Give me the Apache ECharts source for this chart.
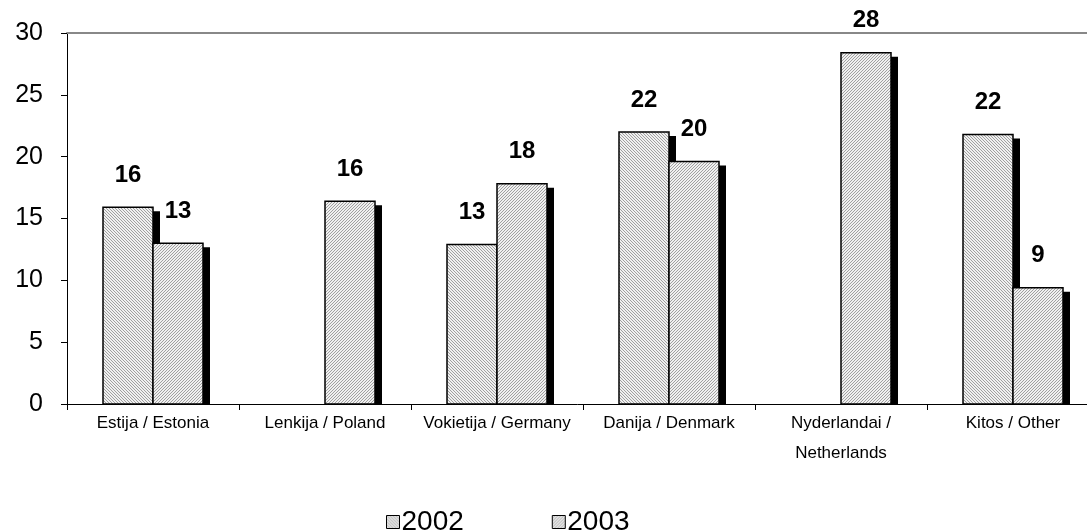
<!DOCTYPE html>
<html>
<head>
<meta charset="utf-8">
<script src="https://cdn.jsdelivr.net/npm/echarts@6/dist/echarts.min.js"></script>
<style>
    html, body { margin: 0; padding: 0; background: #fff; }
    #chart { width: 1087px; height: 532px; }
</style>
</head>
<body>
<div id="chart"></div>
<script>
var categories = ['Estija / Estonia', 'Lenkija / Poland', 'Vokietija / Germany', 'Danija / Denmark', 'Nyderlandai /\nNetherlands', 'Kitos / Other'];
var years = ['2002', '2003'];
var values2002 = [15.9, null, 12.9, 22.0, null, 21.8];
var values2003 = [13.0, 16.4, 17.8, 19.6, 28.4, 9.4];
var yTicks = [0, 5, 10, 15, 20, 25, 30];

var FONT = 'Liberation Sans';

// hatch pattern like the old excel fill
var makeHatch = function (dir) {
    var c = document.createElement('canvas');
    c.width = 3;
    c.height = 3;
    var ctx = c.getContext('2d');
    ctx.fillStyle = '#f0f0f0';
    ctx.fillRect(0, 0, 3, 3);
    ctx.fillStyle = '#a0a0a0';
    for (var i = 0; i < 3; i++) {
        ctx.fillRect(dir > 0 ? i : 2 - i, i, 1, 1);
    }
    return c;
};
var hatch2002 = {image: makeHatch(1), repeat: 'repeat'};
var hatch2003 = {image: makeHatch(-1), repeat: 'repeat'};

var toData = function (arr) {
    var out = [];
    for (var i = 0; i < arr.length; i++) {
        if (arr[i] != null) out.push([i, arr[i]]);
    }
    return out;
};

// side: -1 left of category centre, 0 right of it
var makeRender = function (side, fill) {
    return function (params, api) {
        var idx = api.value(0);
        var val = api.value(1);
        var base = api.coord([idx, 0]);
        var top = api.coord([idx, val]);
        var band = api.size([1, 0])[0];
        var w = band * 50 / 172;
        var x = base[0] + side * w;
        var depth = 7;
        return {
            type: 'group',
            children: [
                {
                    type: 'rect',
                    shape: {x: x + w, y: top[1] + 4, width: depth, height: base[1] - top[1] - 4},
                    style: {fill: '#000'}
                },
                {
                    type: 'rect',
                    shape: {x: x, y: top[1], width: w, height: base[1] - top[1]},
                    style: {fill: fill, stroke: '#000', lineWidth: 1.5}
                },
                {
                    type: 'text',
                    x: x + w / 2,
                    y: top[1] - 20,
                    style: {
                        text: String(Math.round(val)),
                        font: 'bold 24px ' + FONT,
                        fill: '#000',
                        align: 'center',
                        verticalAlign: 'bottom'
                    }
                }
            ]
        };
    };
};

var myChart = echarts.init(document.getElementById('chart'));
var option = {
    animation: false,
    backgroundColor: '#fff',
    grid: {left: 67, top: 33, right: -12, bottom: 128, outerBoundsMode: 'none', containLabel: false},
    legend: {
        data: years,
        top: 503,
        left: 381,
        icon: 'rect',
        itemWidth: 13,
        itemHeight: 13,
        itemGap: 88,
        itemStyle: {borderColor: '#000', borderWidth: 1},
        textStyle: {fontSize: 28, fontFamily: FONT, color: '#000', padding: [0, 0, 0, -3]}
    },
    xAxis: [{
        type: 'category',
        data: categories,
        boundaryGap: true,
        axisLine: {lineStyle: {color: '#000', width: 1}},
        axisTick: {show: true, length: 6, lineStyle: {color: '#000'}},
        axisLabel: {fontSize: 17, fontFamily: FONT, color: '#000', margin: 4, lineHeight: 30, interval: 0}
    }, {
        type: 'category',
        data: categories,
        position: 'top',
        axisLine: {lineStyle: {color: '#888', width: 2}},
        axisTick: {show: false},
        axisLabel: {show: false}
    }],
    yAxis: {
        type: 'value',
        min: yTicks[0],
        max: yTicks[yTicks.length - 1],
        interval: 5,
        axisLine: {show: true, lineStyle: {color: '#000', width: 1}},
        axisTick: {show: true, length: 6, lineStyle: {color: '#000'}},
        splitLine: {show: false},
        axisLabel: {fontSize: 25, fontFamily: FONT, color: '#000', margin: 24}
    },
    series: [
        {
            name: years[0],
            type: 'custom',
            itemStyle: {color: hatch2002},
            encode: {x: 0, y: 1},
            renderItem: makeRender(-1, hatch2002),
            data: toData(values2002)
        },
        {
            name: years[1],
            type: 'custom',
            itemStyle: {color: hatch2003},
            encode: {x: 0, y: 1},
            renderItem: makeRender(0, hatch2003),
            data: toData(values2003)
        }
    ]
};
myChart.setOption(option);
</script>
</body>
</html>
